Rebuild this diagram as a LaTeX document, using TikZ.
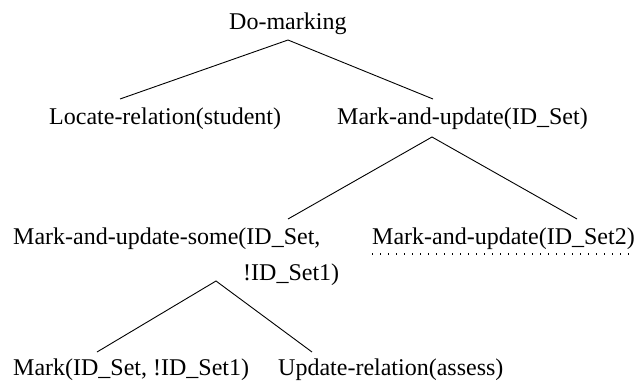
\documentclass[tikz,border=0pt]{standalone}
\usepackage{fontspec}
\setmainfont{Liberation Serif}
\begin{document}
\begin{tikzpicture}[x=1pt,y=-1pt,
  lbl/.style={anchor=base west, inner sep=0pt, font=\fontsize{24}{28}\selectfont},
  edge/.style={line width=0.9pt},
  dotline/.style={line width=1.1pt, dash pattern=on 1.1pt off 6.9pt}]
\useasboundingbox (0,0) rectangle (636,380);
% nodes
\node[lbl] (root) at (229,29) {Do-marking};
\node[lbl] (loc) at (49,124) {Locate-relation(student)};
\node[lbl] (mau) at (337,124) {Mark-and-update(ID\_Set)};
\node[lbl] (maus) at (13,244) {Mark-and-update-some(ID\_Set,};
\node[lbl] (maus2) at (243,280) {!ID\_Set1)};
\node[lbl] (mau2) at (372,244) {Mark-and-update(ID\_Set2)};
\node[lbl] (mark) at (13,375) {Mark(ID\_Set, !ID\_Set1)};
\node[lbl] (upd) at (278,375) {Update-relation(assess)};
% connector end points
\coordinate (a0) at (288,40);
\coordinate (e1) at (120,99);
\coordinate (e2) at (433,99);
\coordinate (a1) at (432,137);
\coordinate (e3) at (288,219);
\coordinate (e4) at (577,219);
\coordinate (a2) at (216,281);
\coordinate (e5) at (97,352);
\coordinate (e6) at (312,352);
\coordinate (d0) at (372,254);
\coordinate (d1) at (636,254);
% connectors
\draw[edge] (e1) -- (a0) -- (e2);
\draw[edge] (e3) -- (a1) -- (e4);
\draw[edge] (e5) -- (a2) -- (e6);
\draw[dotline] (d0) -- (d1);
\end{tikzpicture}
\end{document}
